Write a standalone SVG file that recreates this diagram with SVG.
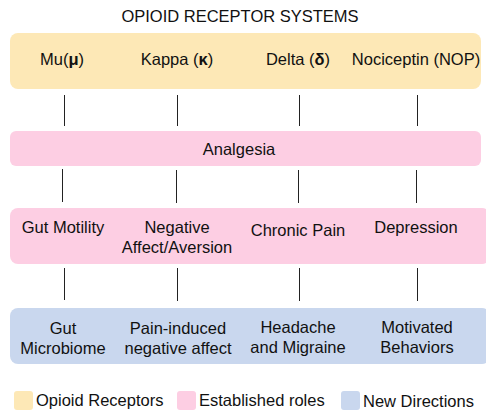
<svg xmlns="http://www.w3.org/2000/svg" width="486" height="414" viewBox="0 0 486 414">
<style>
text{font-family:"Liberation Sans",Arial,sans-serif;font-size:16.5px;fill:#111;text-anchor:middle}
.b{font-weight:bold}
.opi{fill:#FDE8B6}
.est{fill:#FDCEE3}
.new{fill:#C9D7EE}
.con line{stroke:#222;stroke-width:1}
</style>
<rect width="486" height="414" fill="#fff"/>
<text x="240" y="22">OPIOID RECEPTOR SYSTEMS</text>
<g id="receptors">
<rect class="opi" x="10" y="33" width="471" height="56" rx="8"/>
<text x="62" y="65">Mu(<tspan class="b">μ</tspan>)</text>
<text x="177" y="65">Kappa (<tspan class="b">κ</tspan>)</text>
<text x="298" y="65">Delta (<tspan class="b">δ</tspan>)</text>
<text x="416" y="65">Nociceptin (NOP)</text>
</g>
<g id="analgesia">
<rect class="est" x="10" y="131" width="471" height="35" rx="6"/>
<text x="239" y="155">Analgesia</text>
</g>
<g id="established">
<rect class="est" x="10" y="208" width="480" height="56" rx="8"/>
<text x="63" y="233">Gut Motility</text>
<text x="177" y="233">Negative</text>
<text x="177" y="253">Affect/Aversion</text>
<text x="298" y="236">Chronic Pain</text>
<text x="416" y="233">Depression</text>
</g>
<g id="new">
<rect class="new" x="10" y="308" width="480" height="56" rx="8"/>
<text x="63" y="334">Gut</text>
<text x="63" y="354">Microbiome</text>
<text x="178" y="334">Pain-induced</text>
<text x="178" y="354">negative affect</text>
<text x="298" y="333">Headache</text>
<text x="298" y="353">and Migraine</text>
<text x="417" y="333">Motivated</text>
<text x="417" y="353">Behaviors</text>
</g>
<g class="con" id="connectors">
<line x1="64.5" y1="95" x2="64.5" y2="126"/>
<line x1="177.5" y1="95" x2="177.5" y2="126"/>
<line x1="299.5" y1="95" x2="299.5" y2="126"/>
<line x1="417.5" y1="95" x2="417.5" y2="126"/>
<line x1="62.5" y1="169" x2="62.5" y2="202"/>
<line x1="176.5" y1="170" x2="176.5" y2="203"/>
<line x1="298.5" y1="170" x2="298.5" y2="203"/>
<line x1="416.5" y1="170" x2="416.5" y2="203"/>
<line x1="64.5" y1="268" x2="64.5" y2="300"/>
<line x1="177.5" y1="268" x2="177.5" y2="301"/>
<line x1="299.5" y1="268" x2="299.5" y2="301"/>
<line x1="417.5" y1="268" x2="417.5" y2="301"/>
</g>
<g id="legend">
<rect class="opi" x="14" y="391" width="19" height="19" rx="3"/>
<text x="36" y="406" style="text-anchor:start">Opioid Receptors</text>
<rect class="est" x="177" y="391" width="19" height="19" rx="3"/>
<text x="199" y="406" style="text-anchor:start">Established roles</text>
<rect class="new" x="341" y="391" width="19" height="19" rx="3"/>
<text x="363" y="407" style="text-anchor:start">New Directions</text>
</g>
</svg>
